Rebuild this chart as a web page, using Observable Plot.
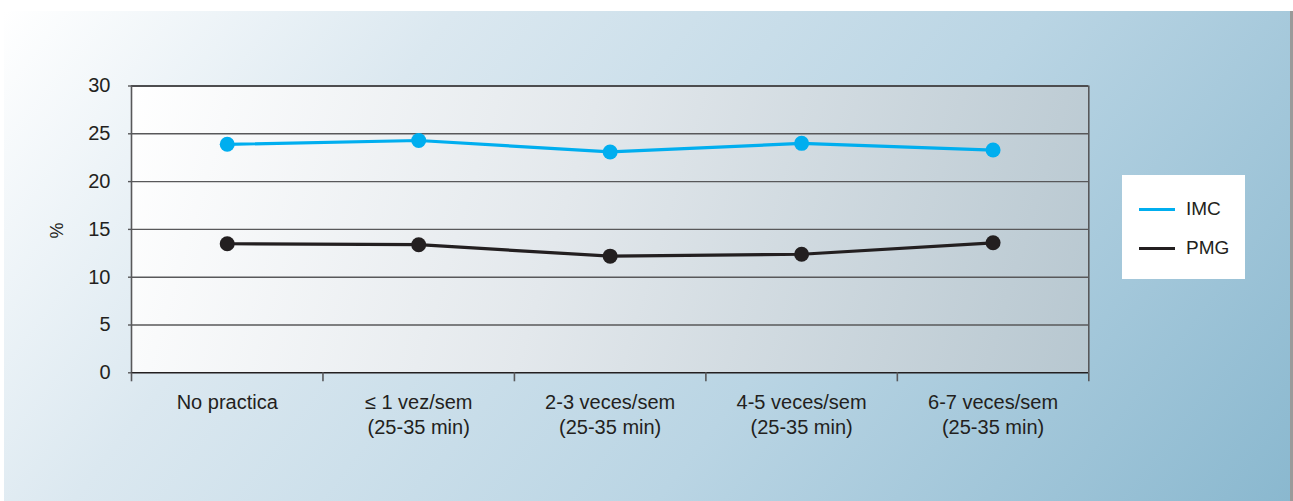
<!DOCTYPE html>
<html>
<head>
<meta charset="utf-8">
<script src="https://cdn.jsdelivr.net/npm/d3@7"></script>
<script src="https://cdn.jsdelivr.net/npm/@observablehq/plot@0.6"></script>
<style>
  html, body { margin: 0; padding: 0; background: #ffffff; }
  #wrap { position: relative; width: 1293px; height: 501px; overflow: hidden; font-family: "Liberation Sans", Arial, sans-serif; }
  #panel { position: absolute; left: 4px; top: 11px; width: 1286px; height: 490px;
    background: linear-gradient(128deg, #ffffff 0%, #dbe8f0 27%, #bad5e4 62%, #8ab8cf 100%);
    box-shadow: 3px 0 0 #9a9a9a; }
  #chart { position: absolute; left: 0; top: 0; }
  #legend { position: absolute; left: 1122px; top: 175px; width: 123px; height: 104px; background: #ffffff; }
  .item { position: absolute; left: 17px; height: 20px; display: flex; align-items: center; font-size: 19px; color: #231f20; }
  .sw { width: 36px; height: 3px; margin-right: 11px; }
</style>
</head>
<body>
<div id="wrap">
  <div id="panel"></div>
  <div id="chart"></div>
  <div id="legend"></div>
</div>
<script>
const categories = ["No practica", "≤ 1 vez/sem\n(25-35 min)", "2-3 veces/sem\n(25-35 min)", "4-5 veces/sem\n(25-35 min)", "6-7 veces/sem\n(25-35 min)"];
const imc = [23.9, 24.3, 23.1, 24.0, 23.3];
const pmg = [13.5, 13.4, 12.2, 12.4, 13.6];
const yTicks = [0, 5, 10, 15, 20, 25, 30];
const seriesNames = ["IMC", "PMG"];
const seriesColors = ["#00aeef", "#231f20"];

const data = [];
categories.forEach((c, i) => {
  data.push({series: "IMC", i, pos: i + 0.5, value: imc[i]});
  data.push({series: "PMG", i, pos: i + 0.5, value: pmg[i]});
});
const boundaries = d3.range(categories.length + 1);
const centers = categories.map((c, i) => i + 0.5);

const chart = Plot.plot({
  width: 1293,
  height: 501,
  marginLeft: 131,
  marginTop: 85.5,
  marginRight: 204.7,
  marginBottom: 128.7,
  style: {background: "transparent", color: "#231f20", fontFamily: "'Liberation Sans', Arial, sans-serif"},
  x: {domain: [0, categories.length], axis: null},
  y: {domain: [0, 30], axis: null},
  color: {domain: seriesNames, range: seriesColors},
  marks: [
    Plot.frame({fill: "url(#innerGrad)", stroke: null}),
    Plot.gridY(yTicks.filter(d => d > 0 && d < 30), {stroke: "#58585a", strokeOpacity: 1, strokeWidth: 1.4}),
    Plot.axisY(yTicks, {tickSize: 3, tickPadding: 18, fontSize: 20, label: null, stroke: "#58585a", strokeWidth: 1.4}),
    Plot.ruleY([30], {stroke: "#4d4d4f", strokeWidth: 1.8}),
    Plot.ruleX([0, categories.length], {stroke: "#58585a", strokeWidth: 1.6}),
    Plot.ruleY([0], {stroke: "#231f20", strokeWidth: 1.6}),
    Plot.axisX(boundaries, {tickSize: 9, tickFormat: () => "", stroke: "#58585a", strokeWidth: 1.6, label: null}),
    Plot.axisX(centers, {tickSize: 0, tickPadding: 18, fontSize: 20, lineHeight: 1.25, tickFormat: d => categories[Math.round(d - 0.5)], label: null}),
    Plot.text(["%"], {frameAnchor: "left", dx: -74, dy: 9, rotate: -90, fontSize: 18, fill: "#231f20"}),
    Plot.line(data, {x: "pos", y: "value", z: "series", stroke: "series", strokeWidth: 3.2}),
    Plot.dot(data, {x: "pos", y: "value", fill: "series", r: 7.5})
  ]
});

const ns = "http://www.w3.org/2000/svg";
const defs = document.createElementNS(ns, "defs");
const grad = document.createElementNS(ns, "linearGradient");
grad.setAttribute("id", "innerGrad");
grad.setAttribute("gradientUnits", "userSpaceOnUse");
grad.setAttribute("x1", "131"); grad.setAttribute("y1", "86");
grad.setAttribute("x2", "1088"); grad.setAttribute("y2", "372");
[["0%", "#ffffff"], ["45%", "#e3e8ec"], ["100%", "#b7c7d0"]].forEach(([o, c]) => {
  const s = document.createElementNS(ns, "stop");
  s.setAttribute("offset", o); s.setAttribute("stop-color", c);
  grad.appendChild(s);
});
defs.appendChild(grad);
chart.insertBefore(defs, chart.firstChild);
document.getElementById("chart").appendChild(chart);

const legend = document.getElementById("legend");
seriesNames.forEach((name, k) => {
  const item = document.createElement("div");
  item.className = "item";
  item.style.top = (k === 0 ? 24 : 63) + "px";
  const sw = document.createElement("div");
  sw.className = "sw";
  sw.style.background = seriesColors[k];
  const t = document.createElement("span");
  t.textContent = name;
  item.appendChild(sw); item.appendChild(t);
  legend.appendChild(item);
});
</script>
</body>
</html>
